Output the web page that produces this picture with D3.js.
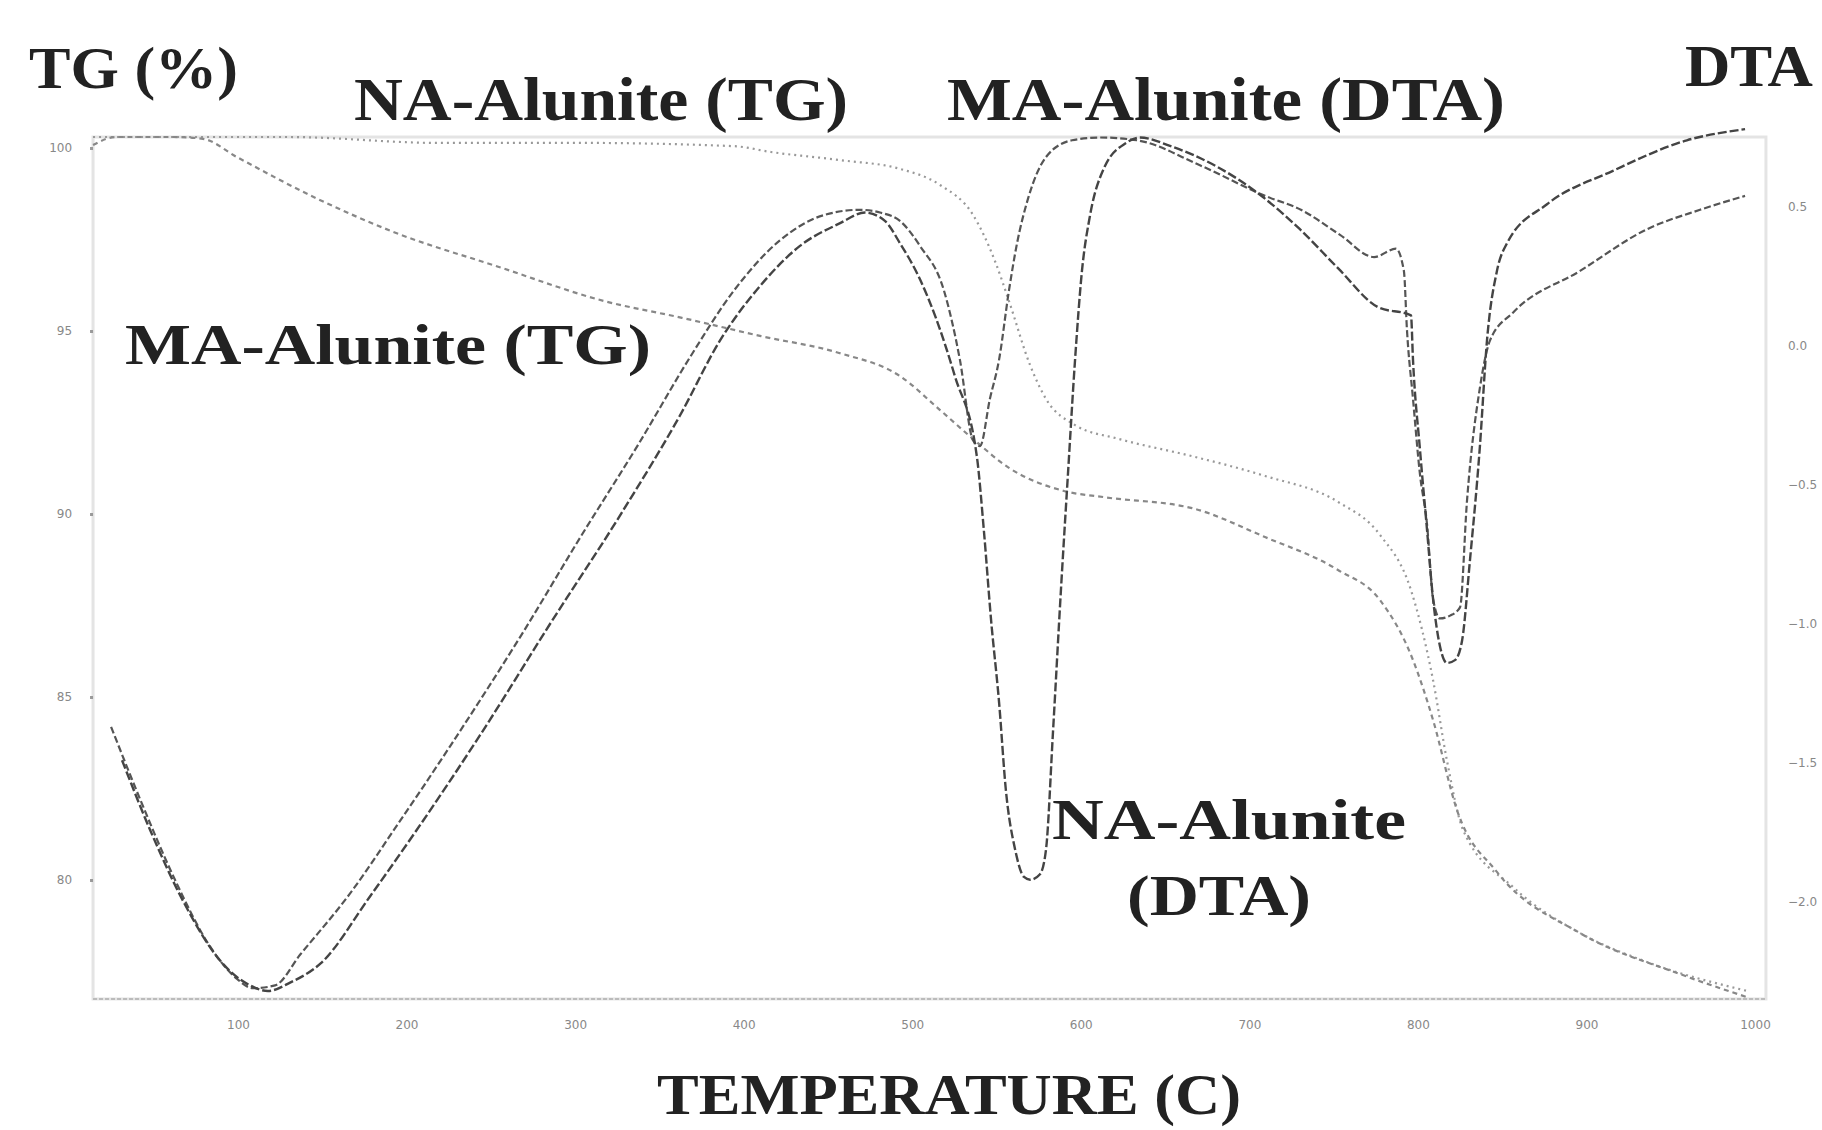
<!DOCTYPE html>
<html>
<head>
<meta charset="utf-8">
<script src="https://cdn.jsdelivr.net/npm/d3@7"></script>
<style>
  html, body { margin: 0; padding: 0; background: #fff; }
  svg { display: block; }
  .lbl { font-family: "Liberation Serif", "DejaVu Serif", serif; font-weight: bold; fill: #222; }
  .tick text { font-family: "DejaVu Sans", sans-serif; fill: #888; font-size: 12px; }
</style>
</head>
<body>
<svg id="chart" width="1822" height="1130"></svg>
<script>
// ---- tick labels ----
const tempTicks = [100, 200, 300, 400, 500, 600, 700, 800, 900, 1000];
const tgTicks = [100, 95, 90, 85, 80];
const dtaTicks = [0.5, 0, -0.5, -1, -1.5, -2];

// ---- MA-Alunite (TG) ----
const maTgT = [14.0, 27.6, 62.0, 79.2, 99.4, 146.3, 192.6, 254.8, 317.1, 363.4, 410.3, 456.6, 492.7, 516.5, 536.1, 557.4, 590.0, 613.8, 666.0, 709.3, 752.6, 777.5, 797.1, 809.0, 823.2, 846.9, 896.2, 955.5, 995.2];
const maTgV = [100.08, 100.3, 100.3, 100.25, 99.75, 98.63, 97.70, 96.75, 95.82, 95.36, 94.86, 94.40, 93.77, 92.84, 92.05, 91.26, 90.63, 90.46, 90.16, 89.37, 88.47, 87.65, 86.01, 84.37, 81.91, 80.22, 78.55, 77.43, 76.80];

// ---- NA-Alunite (TG) ----
const naTgT = [14.0, 130.9, 217.5, 301.1, 394.3, 416.2, 457.1, 492.7, 516.5, 536.1, 549.1, 557.4, 569.9, 579.4, 596.6, 622.7, 666.0, 709.3, 752.6, 777.5, 795.9, 809.0, 817.3, 826.8, 856.4, 896.2, 935.9, 995.2];
const naTgV = [100.3, 100.3, 100.14, 100.14, 100.05, 99.89, 99.67, 99.43, 98.99, 98.17, 96.91, 95.82, 94.07, 93.14, 92.43, 92.05, 91.58, 91.04, 90.33, 89.43, 87.92, 85.46, 83.25, 81.37, 79.81, 78.55, 77.76, 76.97];

// ---- MA-Alunite (DTA) ----
const maDtaT = [24.7, 41.9, 62.6, 83.4, 98.2, 108.9, 122.0, 136.8, 166.4, 192.6, 225.8, 269.1, 302.9, 337.9, 368.2, 394.3, 421.5, 447.1, 469.0, 480.9, 492.7, 504.6, 518.8, 528.3, 536.1, 540.2, 546.1, 551.5, 557.4, 562.2, 568.7, 579.4, 594.8, 611.4, 633.3, 670.7, 709.3, 730.6, 753.8, 774.0, 787.0, 791.7, 793.5, 797.1, 801.2, 805.4, 809.0, 813.1, 819.1, 825.0, 829.1, 836.8, 842.8, 856.4, 896.2, 935.9, 967.4, 994.1];
const maDtaV = [-1.37, -1.63, -1.92, -2.16, -2.27, -2.31, -2.30, -2.19, -1.97, -1.74, -1.44, -1.03, -0.69, -0.35, -0.04, 0.20, 0.38, 0.47, 0.49, 0.48, 0.45, 0.36, 0.20, -0.05, -0.34, -0.36, -0.19, -0.05, 0.20, 0.37, 0.53, 0.68, 0.74, 0.75, 0.74, 0.65, 0.54, 0.49, 0.40, 0.32, 0.35, 0.27, 0.06, -0.19, -0.46, -0.64, -0.91, -0.98, -0.97, -0.94, -0.56, -0.15, 0.02, 0.12, 0.27, 0.42, 0.49, 0.54];

// ---- NA-Alunite (DTA) ----
const naDtaT = [31.2, 47.8, 68.6, 89.3, 107.1, 117.8, 130.9, 149.2, 178.3, 205.0, 243.6, 285.1, 326.6, 362.2, 386.0, 410.3, 433.4, 456.6, 472.0, 483.8, 492.7, 504.6, 514.1, 525.4, 538.4, 542.6, 546.7, 551.5, 555.6, 561.0, 566.3, 569.9, 575.8, 579.4, 583.5, 588.3, 592.4, 596.6, 600.7, 605.5, 613.8, 626.8, 635.1, 652.9, 709.3, 730.0, 752.6, 776.3, 795.9, 797.1, 801.2, 805.4, 809.0, 813.1, 817.3, 822.0, 826.2, 830.9, 836.8, 841.0, 846.9, 852.9, 876.6, 915.7, 959.6, 994.1];
const naDtaV = [-1.49, -1.74, -2.01, -2.21, -2.30, -2.32, -2.29, -2.22, -1.98, -1.75, -1.40, -1.00, -0.61, -0.25, 0.02, 0.22, 0.36, 0.44, 0.48, 0.45, 0.37, 0.24, 0.10, -0.11, -0.40, -0.67, -0.98, -1.28, -1.60, -1.81, -1.91, -1.92, -1.90, -1.81, -1.39, -0.87, -0.46, -0.05, 0.27, 0.47, 0.64, 0.73, 0.75, 0.72, 0.53, 0.42, 0.28, 0.14, 0.11, -0.05, -0.37, -0.66, -0.91, -1.08, -1.14, -1.13, -1.06, -0.77, -0.36, 0.02, 0.27, 0.37, 0.51, 0.63, 0.74, 0.78];

const svg = d3.select("#chart");

const x = d3.scaleLinear().domain([100, 1000]).range([238, 1755]);
const yTG = d3.scaleLinear().domain([80, 100]).range([880, 148]);
const yDTA = d3.scaleLinear().domain([-2, 0.5]).range([902, 207]);

const frameL = x(14), frameR = x(1006.5), frameT = yTG(100.3), frameB = yTG(76.75);

// frame
svg.append("rect")
  .attr("x", frameL).attr("y", frameT)
  .attr("width", frameR - frameL).attr("height", frameB - frameT)
  .attr("fill", "none").attr("stroke", "#e4e4e4").attr("stroke-width", 3);
svg.append("line")
  .attr("x1", frameL).attr("x2", frameR).attr("y1", frameB).attr("y2", frameB)
  .attr("stroke", "#bbb").attr("stroke-width", 2).attr("stroke-dasharray", "4,2");

// axes
const xAxis = d3.axisBottom(x).tickValues(tempTicks).tickSize(0).tickPadding(22).tickFormat(d3.format("d"));
const gx = svg.append("g").attr("transform", `translate(0,${frameB})`).call(xAxis);
gx.select(".domain").remove();

const yAxisL = d3.axisLeft(yTG).tickValues(tgTicks).tickSize(3).tickPadding(18).tickFormat(d3.format("d"));
const gl = svg.append("g").attr("transform", `translate(${frameL},0)`).call(yAxisL);
gl.select(".domain").remove();
gl.selectAll(".tick line").attr("stroke", "#999").attr("stroke-width", 3);

const yAxisR = d3.axisRight(yDTA).tickValues(dtaTicks).tickSize(0).tickPadding(22).tickFormat(d3.format(".1f"));
const gr = svg.append("g").attr("transform", `translate(${frameR},0)`).call(yAxisR);
gr.select(".domain").remove();

// lines
function draw(tArr, vArr, yScale, color, dash, width) {
  const pts = tArr.map((t, i) => [t, vArr[i]]);
  const line = d3.line().x(d => x(d[0])).y(d => yScale(d[1])).curve(d3.curveMonotoneX);
  svg.append("path").datum(pts)
    .attr("d", line).attr("fill", "none")
    .attr("stroke", color).attr("stroke-width", width)
    .attr("stroke-dasharray", dash);
}
draw(naTgT, naTgV, yTG, "#999", "2,4", 2.2);
draw(maTgT, maTgV, yTG, "#888", "5,4", 2.2);
draw(maDtaT, maDtaV, yDTA, "#555", "7,3", 2.2);
draw(naDtaT, naDtaV, yDTA, "#444", "9,3", 2.4);

// titles / labels
function label(txt, x0, x1, base, size) {
  svg.append("text").attr("class", "lbl")
    .attr("x", x0).attr("y", base)
    .attr("font-size", size)
    .attr("textLength", x1 - x0).attr("lengthAdjust", "spacingAndGlyphs")
    .text(txt);
}
label("TG (%)", 29, 238, 88, 60);
label("NA-Alunite (TG)", 354, 848, 120, 62);
label("MA-Alunite (DTA)", 947, 1505, 120, 62);
label("DTA", 1685, 1813, 86, 60);
label("MA-Alunite (TG)", 125, 651, 364, 58);
label("NA-Alunite", 1052, 1406, 839, 58);
label("(DTA)", 1127, 1311, 915, 58);
label("TEMPERATURE (C)", 657, 1241, 1114, 56);
</script>
</body>
</html>
